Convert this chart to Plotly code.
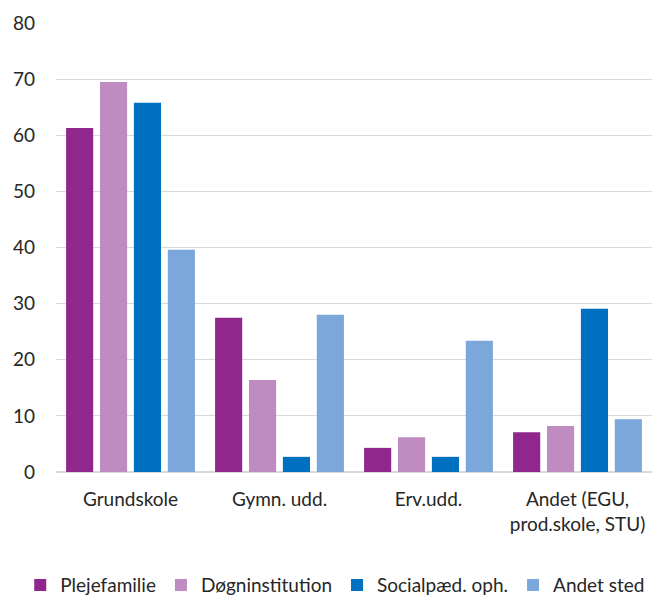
import plotly.graph_objects as go

categories = ["Grundskole", "Gymn. udd.", "Erv.udd.", "Andet (EGU,<br>prod.skole, STU)"]
series_names = ["Plejefamilie", "Døgninstitution", "Socialpæd. oph.", "Andet sted"]
plejefamilie = [61.3, 27.5, 4.3, 7.1]
dogninstitution = [69.5, 16.4, 6.2, 8.2]
socialpaed = [65.8, 2.7, 2.7, 29.1]
andet_sted = [39.6, 28.0, 23.4, 9.4]
colors = ["#8f278c", "#be8cc0", "#0070c0", "#7ba7da"]
y_ticks = [0, 10, 20, 30, 40, 50, 60, 70, 80]

fig = go.Figure()
for name, vals, col in zip(series_names, [plejefamilie, dogninstitution, socialpaed, andet_sted], colors):
    fig.add_trace(go.Bar(name=name, x=categories, y=vals, marker_color=col, marker_line_width=0))

fig.update_layout(
    width=654, height=596,
    barmode="group", bargap=0.09, bargroupgap=0.2,
    plot_bgcolor="white", paper_bgcolor="white",
    font=dict(family="Lato, Open Sans, sans-serif", size=19, color="#262626"),
    margin=dict(l=56, r=2, t=23, b=124, autoexpand=False),
    legend=dict(orientation="h", x=-0.06, xanchor="left", y=-0.252, yanchor="middle",
                font=dict(size=19), traceorder="normal", itemwidth=30, tracegroupgap=0),
    showlegend=True,
)
fig.update_yaxes(range=[0, 80], tickvals=y_ticks, showgrid=True, gridcolor="#d9d9d9", gridwidth=1,
                 zeroline=True, zerolinecolor="#d9d9d9", ticks="", ticklabelstandoff=20,
                 showline=False, automargin=False)
fig.update_xaxes(showline=False, ticks="", ticklabelstandoff=14, automargin=False)

fig.write_html("out.html", config={"displayModeBar": False},
               post_script="document.body.style.margin='0';document.body.style.overflow='hidden';")
